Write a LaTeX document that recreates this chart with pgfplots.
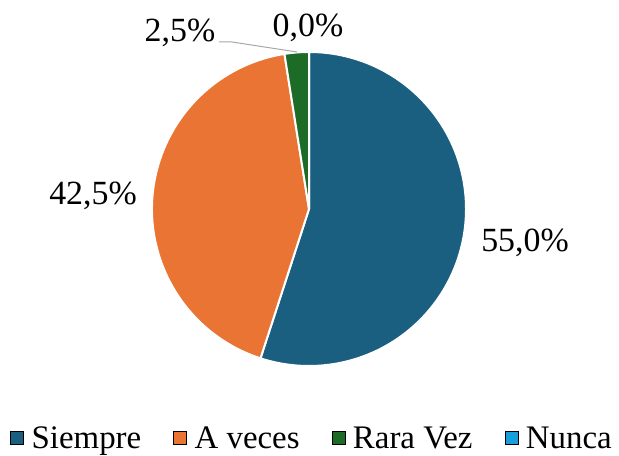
\documentclass[border=0pt]{standalone}
\usepackage{pgfplots}
\pgfplotsset{compat=1.18}
\usepackage{fontspec}
\setmainfont{Liberation Serif}
\definecolor{cSiempre}{HTML}{1A5F80}
\definecolor{cAveces}{HTML}{EA7433}
\definecolor{cRara}{HTML}{1C6B26}
\definecolor{cNunca}{HTML}{169FDB}
\begin{document}
\begin{tikzpicture}
\begin{axis}[
  x=1bp, y=1bp, xmin=0, xmax=619, ymin=0, ymax=456,
  hide axis, clip=false,
  legend style={at={(axis cs:312,18)}, anchor=center, draw=none, fill=none,
    legend columns=4, font=\fontsize{33}{40}\selectfont,
    /tikz/every odd column/.append style={column sep=6bp},
    /tikz/every even column/.append style={column sep=30bp},
    inner sep=0pt},
  legend image code/.code={\fill[#1] (0bp,-6.5bp) rectangle (13bp,6.5bp);},
]
\path (axis cs:0,0) rectangle (axis cs:619,456);
% values (percent): Siempre 55.0, A veces 42.5, Rara Vez 2.5, Nunca 0.0
\fill[cSiempre, draw=white, line width=2bp] (axis cs:309,247) -- ++(90:157bp)
  arc[start angle=90, delta angle={-3.6*55.0}, radius=157bp] -- cycle;
\fill[cAveces, draw=white, line width=2bp] (axis cs:309,247) -- ++({90-3.6*55.0}:157bp)
  arc[start angle={90-3.6*55.0}, delta angle={-3.6*42.5}, radius=157bp] -- cycle;
\fill[cRara, draw=white, line width=2bp] (axis cs:309,247) -- ++({90-3.6*97.5}:157bp)
  arc[start angle={90-3.6*97.5}, delta angle={-3.6*2.5}, radius=157bp] -- cycle;
\draw[white, line width=2bp] (axis cs:309,247) -- ++(90:157bp);
\addlegendimage{fill=cSiempre}\addlegendentry{Siempre}
\addlegendimage{fill=cAveces}\addlegendentry{A veces}
\addlegendimage{fill=cRara}\addlegendentry{Rara Vez}
\addlegendimage{fill=cNunca}\addlegendentry{Nunca}
\draw[gray!70, line width=1bp] (axis cs:219,414) -- (axis cs:232,414) -- (axis cs:297,404);
\node[font=\fontsize{34}{40}\selectfont] at (axis cs:525,213) {55,0\%};
\node[font=\fontsize{34}{40}\selectfont] at (axis cs:93,260) {42,5\%};
\node[font=\fontsize{34}{40}\selectfont] at (axis cs:180,423) {2,5\%};
\node[font=\fontsize{34}{40}\selectfont] at (axis cs:308,428) {0,0\%};
\end{axis}
\end{tikzpicture}
\end{document}
